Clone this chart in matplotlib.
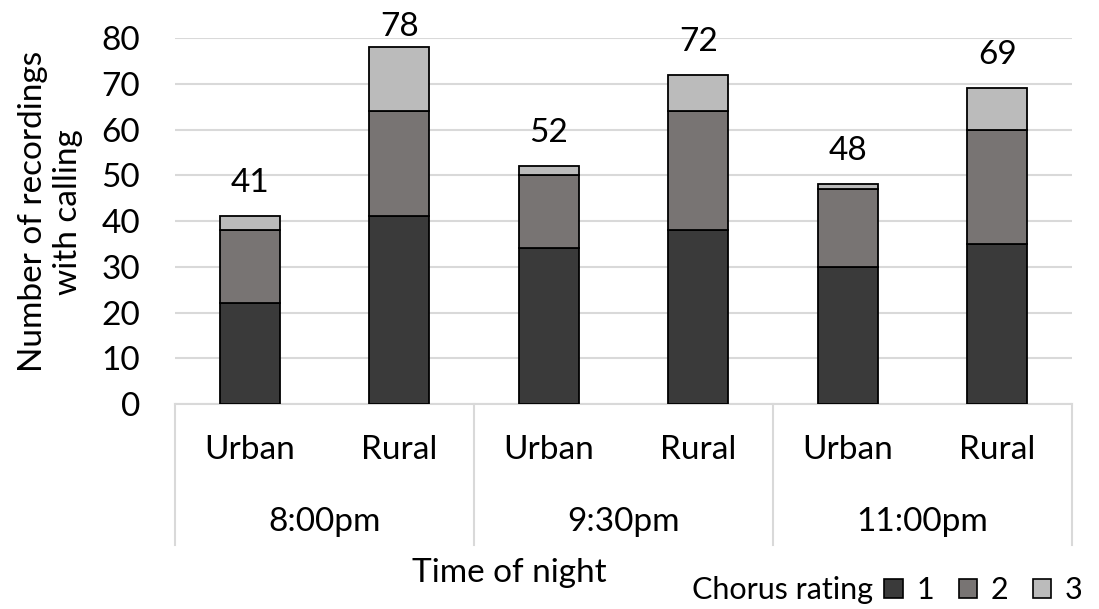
import numpy as np
import matplotlib
matplotlib.use('Agg')
import matplotlib.pyplot as plt
from matplotlib.patches import Patch

plt.rcParams['font.family'] = ['Lato', 'DejaVu Sans']

# stacked counts per bar, ordered 8:00pm U/R, 9:30pm U/R, 11:00pm U/R
times = ['8:00pm', '9:30pm', '11:00pm']
sites = ['Urban', 'Rural']
rating1 = np.array([22, 41, 34, 38, 30, 35])
rating2 = np.array([16, 23, 16, 26, 17, 25])
rating3 = np.array([3, 14, 2, 8, 1, 9])
totals = rating1 + rating2 + rating3

colors = ['#3a3a3a', '#787473', '#bbbbbb']
FS = 24

fig = plt.figure(figsize=(10.99, 6.09), dpi=100)
ax = fig.add_axes([0.1592, 0.3366, 0.8162, 0.601])

x = np.arange(len(totals))
bottom = np.zeros(len(totals))
for vals, c, lab in zip([rating1, rating2, rating3], colors, ['1', '2', '3']):
    ax.bar(x, vals, bottom=bottom, width=0.4, color=c, edgecolor='black',
           linewidth=1.3, label=lab, zorder=3)
    bottom = bottom + vals

# totals above each stack (kept inside the top of the plot area)
for xi, t in zip(x, totals):
    ax.text(xi, min(t + 7.2, 82.4), str(t), ha='center', va='center',
            fontsize=FS, clip_on=False)

ax.set_xlim(-0.5, len(totals) - 0.5)
ax.set_ylim(0, 80)
ax.set_yticks(np.arange(0, 81, 10))
ax.yaxis.grid(True, color='#d9d9d9', linewidth=1.5, zorder=0)
ax.set_axisbelow(True)
for s in ['top', 'right', 'left']:
    ax.spines[s].set_visible(False)
ax.spines['bottom'].set_color('#d9d9d9')
ax.spines['bottom'].set_linewidth(1.5)
ax.tick_params(axis='y', length=0, labelsize=FS, pad=25)
ax.set_xticks([])

# two-level category axis
trans = ax.get_xaxis_transform()
for i in range(len(totals)):
    ax.text(i, -0.126, sites[i % 2], transform=trans, ha='center',
            va='center', fontsize=FS)
for g, name in enumerate(times):
    ax.text(2 * g + 0.5, -0.322, name, transform=trans, ha='center',
            va='center', fontsize=FS)
for b in np.arange(-0.5, len(totals), 2):
    ax.plot([b, b], [0, -0.385], transform=trans, color='#d9d9d9',
            linewidth=1.5, clip_on=False)

fig.text(0.046, 0.652, 'Number of recordings\nwith calling', rotation=90,
         ha='center', va='center', fontsize=FS, multialignment='center',
         linespacing=1.2)
fig.text(0.463, 0.059, 'Time of night', ha='center', va='center', fontsize=FS)

fig.text(0.63, 0.031, 'Chorus rating', ha='left', va='center', fontsize=22)
handles = [Patch(facecolor=c, edgecolor='black', linewidth=1.2) for c in colors]
fig.legend(handles, ['1', '2', '3'], loc='center right',
           bbox_to_anchor=(0.985, 0.031), ncol=3, frameon=False, fontsize=22,
           handlelength=0.6, handleheight=0.6, handletextpad=0.45,
           columnspacing=0.8, borderpad=0, borderaxespad=0)

fig.savefig('out.png', dpi=100)
